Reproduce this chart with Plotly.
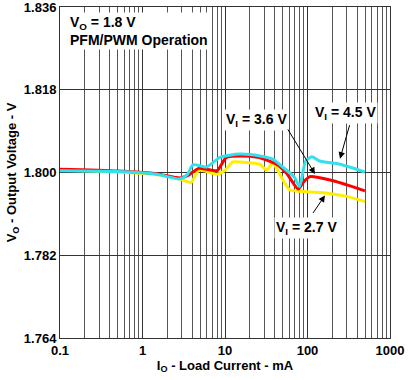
import plotly.graph_objects as go

# Load current (mA) and output voltage (V) for each input voltage
x_27 = [0.1, 0.5, 1.5, 2.85, 3.87, 4.8, 6.0, 8.0, 10.0, 12.5, 18, 26.5, 32, 38, 50, 61, 100, 172, 300, 497]
y_27 = [1.8005, 1.8001, 1.7995, 1.7986, 1.7978, 1.8005, 1.8002, 1.7996, 1.8005, 1.8023, 1.8022, 1.8018, 1.8005, 1.8020, 1.7985, 1.7962, 1.7958, 1.7955, 1.7948, 1.7937]

x_36 = [0.1, 0.5, 1.5, 2.85, 3.5, 4.8, 6.0, 8.0, 10.4, 16, 25, 32, 42, 56, 77, 90, 107, 204, 300, 497]
y_36 = [1.8007, 1.8003, 1.7997, 1.7988, 1.7993, 1.8009, 1.8007, 1.8004, 1.8033, 1.8036, 1.8033, 1.8027, 1.8018, 1.7998, 1.7964, 1.7980, 1.7991, 1.7982, 1.7973, 1.7960]

x_45 = [0.1, 0.5, 1.5, 2.85, 3.5, 4.1, 6.0, 8.7, 15, 26.5, 38, 50, 70, 80, 95, 113, 140, 248, 497]
y_45 = [1.8004, 1.8002, 1.7996, 1.7986, 1.7996, 1.8017, 1.8012, 1.8033, 1.8040, 1.8036, 1.8029, 1.8012, 1.7989, 1.7969, 1.8025, 1.8034, 1.8025, 1.8018, 1.8001]

x_ticks = [0.1, 1, 10, 100, 1000]
x_tick_labels = ["0.1", "1", "10", "100", "1000"]
y_ticks = [1.764, 1.782, 1.800, 1.818, 1.836]
y_tick_labels = ["1.764", "1.782", "1.800", "1.818", "1.836"]

FONT = "Liberation Sans, Arial, sans-serif"

fig = go.Figure()
fig.add_trace(go.Scatter(x=x_27, y=y_27, mode="lines", line=dict(color="#FFEE00", width=3, shape="spline", smoothing=0.6), showlegend=False))
fig.add_trace(go.Scatter(x=x_36, y=y_36, mode="lines", line=dict(color="#FF0000", width=3, shape="spline", smoothing=0.6), showlegend=False))
fig.add_trace(go.Scatter(x=x_45, y=y_45, mode="lines", line=dict(color="#33E0EE", width=3, shape="spline", smoothing=0.6), showlegend=False))

# minor grid values 2..9 per decade
minor_vals = [round(d * m, 6) for d in [0.1, 1, 10, 100] for m in range(2, 10)]

tickfont = dict(family=FONT, size=13, color="black", weight="bold")
fig.update_xaxes(type="log", range=[-1, 3], tickvals=x_ticks, ticktext=x_tick_labels, tickangle=0,
                 showgrid=True, gridcolor="#333333", gridwidth=1, automargin=False,
                 minor=dict(tickvals=minor_vals, showgrid=True, gridcolor="#555555", gridwidth=1, ticks=""),
                 showline=True, linecolor="#333333", linewidth=1, mirror=True,
                 ticks="", ticklen=0, tickfont=tickfont, ticklabeloverflow="allow",
                 title=dict(text="I<sub>O</sub> - Load Current - mA", font=tickfont, standoff=2))
fig.update_yaxes(range=[1.76399, 1.83601], tickvals=y_ticks, ticktext=y_tick_labels,
                 showgrid=True, gridcolor="#333333", gridwidth=1, automargin=False,
                 showline=True, linecolor="#333333", linewidth=1, mirror=True,
                 ticks="", ticklen=0, zeroline=False, tickfont=tickfont, ticklabeloverflow="allow",
                 title=dict(text="V<sub>O</sub> - Output Voltage - V", font=tickfont, standoff=4))

lab = dict(family=FONT, size=14, color="black", weight="bold")
annots = [
    dict(x=0.025, y=0.985, xref="paper", yref="paper", text="V<sub>O</sub> = 1.8 V<br>PFM/PWM Operation",
         showarrow=False, xanchor="left", yanchor="top", align="left", bgcolor="white", font=lab),
    dict(x=0.864, y=0.68, xref="paper", yref="paper", text="V<sub>I</sub> = 4.5 V", showarrow=False,
         bgcolor="white", font=lab, xanchor="center", yanchor="middle"),
    dict(x=0.594, y=0.66, xref="paper", yref="paper", text="V<sub>I</sub> = 3.6 V", showarrow=False,
         bgcolor="white", font=lab, xanchor="center", yanchor="middle"),
    dict(x=0.748, y=0.333, xref="paper", yref="paper", text="V<sub>I</sub> = 2.7 V", showarrow=False,
         bgcolor="white", font=lab, xanchor="center", yanchor="middle"),
]
fig.update_layout(annotations=annots)
# arrows (head at data point, tail in pixel offset)
fig.add_annotation(x=2.09, y=1.7997, xref="x", yref="y", text="", showarrow=True, arrowhead=2,
                   arrowsize=1.3, arrowwidth=1, arrowcolor="black", ax=-28, ay=-46)
fig.add_annotation(x=2.394, y=1.8030, xref="x", yref="y", text="", showarrow=True, arrowhead=2,
                   arrowsize=1.3, arrowwidth=1, arrowcolor="black", ax=10, ay=-35)
fig.add_annotation(x=2.212, y=1.7950, xref="x", yref="y", text="", showarrow=True, arrowhead=2,
                   arrowsize=1.3, arrowwidth=1, arrowcolor="black", ax=-13, ay=19)

fig.update_layout(width=415, height=380, margin=dict(l=60, r=25, t=7, b=42),
                  paper_bgcolor="white", plot_bgcolor="white")
fig.write_html("out.html", config={"displayModeBar": False},
               post_script="document.body.style.margin='0px';")
